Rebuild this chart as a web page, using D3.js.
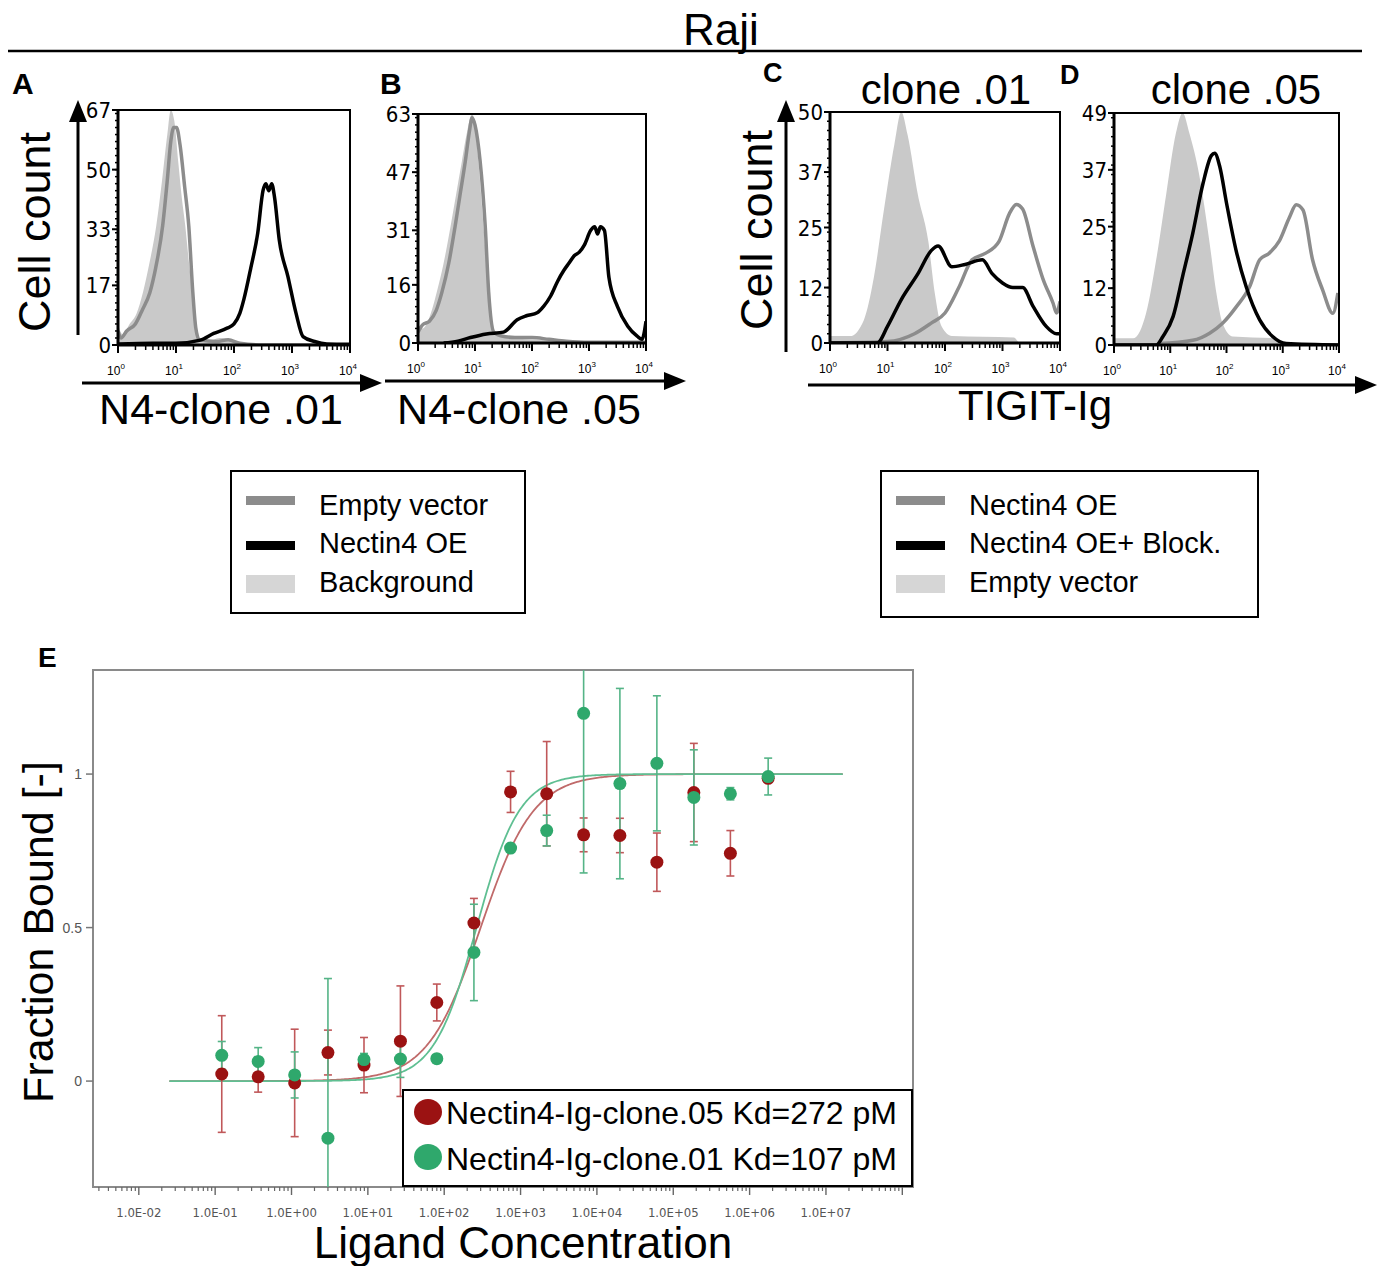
<!DOCTYPE html>
<html>
<head>
<meta charset="utf-8">
<script src="https://cdn.jsdelivr.net/npm/d3@7"></script>
<style>
  body { margin: 0; background: #fff; }
  svg { display: block; font-family: "Liberation Sans", Arial, sans-serif; }
</style>
</head>
<body>
<div id="fig"></div>
<script>
// ---- Flow cytometry histograms: [log10 fluorescence, cell count] ----
const decadeExps = ["0", "1", "2", "3", "4"];

const aYTicks = [0, 17, 33, 50, 67];
const aBackground = [[0,6],[0.08,3],[0.2,6],[0.32,9],[0.43,15],[0.55,24],[0.66,34],[0.76,47],[0.85,60],[0.91,67],[0.97,64],[1.04,52],[1.1,42],[1.16,34],[1.22,24],[1.28,15],[1.33,6],[1.4,2],[1.55,1],[1.75,2],[1.95,1.5],[2.15,0],[4,0]];
const aEmptyVector = [[0,4],[0.05,2],[0.15,4],[0.3,6],[0.42,10],[0.55,15],[0.65,22],[0.77,34],[0.85,47],[0.91,58],[0.96,62],[1.01,62],[1.07,57],[1.15,45],[1.22,34],[1.29,15],[1.34,5],[1.4,1.5],[1.7,1],[1.9,1.5],[2.1,0.5],[2.5,0],[4,0]];
const aNectin4OE = [[0,0.3],[0.6,0.5],[1.0,0.5],[1.42,1.4],[1.65,3.3],[1.88,4.8],[2.0,6],[2.1,9],[2.17,13],[2.29,22],[2.41,32],[2.5,44],[2.55,46],[2.6,44],[2.65,46],[2.7,42],[2.78,30],[2.93,19.5],[3.07,9],[3.19,2.4],[3.39,1],[3.6,0.3],[4,0.2]];

const bYTicks = [0, 16, 31, 47, 63];
const bBackground = [[0,5],[0.08,4],[0.2,7],[0.33,14],[0.45,22],[0.57,32],[0.67,41],[0.77,50],[0.86,58],[0.95,63],[1.0,60],[1.06,50],[1.15,32],[1.24,14],[1.33,3],[1.45,2],[1.62,1.8],[1.9,1],[2.3,0.8],[2.67,0.5],[2.8,0],[4,0]];
const bEmptyVector = [[0,3],[0.08,5],[0.2,6],[0.32,9],[0.42,14],[0.54,22],[0.65,32],[0.74,41],[0.83,50],[0.9,58],[0.95,62],[1.0,60],[1.09,50],[1.18,32],[1.24,14],[1.33,3],[1.45,2],[1.7,1.5],[2.0,1.5],[2.3,1],[2.6,0.5],[3,0.2],[4,0.2]];
const bNectin4OE = [[0.45,0],[0.7,0.5],[0.92,1.5],[1.2,2.5],[1.5,3],[1.74,6.4],[1.9,7.5],[2.09,8.3],[2.2,10],[2.33,13],[2.45,17],[2.56,20],[2.65,22],[2.74,24],[2.83,25],[2.92,27],[3.03,31],[3.1,32],[3.15,30],[3.2,32],[3.27,31],[3.35,18],[3.5,10],[3.68,4.6],[3.85,1.8],[3.93,1],[4.0,6]];

const cYTicks = [0, 12, 25, 37, 50];
const cEmptyVector = [[0,1.5],[0.35,1.5],[0.59,5],[0.76,14],[0.94,29],[1.12,43],[1.24,50],[1.35,45],[1.53,32],[1.71,22],[1.82,11],[1.94,3.6],[2.12,1.5],[3.2,1.2],[3.3,0],[4,0]];
const cNectin4OE = [[0,0],[1.0,0.3],[1.47,2],[1.76,4.3],[2.0,6.5],[2.24,12],[2.47,18],[2.7,19.4],[2.94,22],[3.12,28],[3.24,30],[3.35,29],[3.53,21],[3.7,14],[3.88,8.6],[3.94,6.5],[4.0,9]];
const cBlock = [[0,0],[0.82,0],[1.0,3.6],[1.24,9.4],[1.53,15],[1.76,20],[1.88,21],[2.12,16.5],[2.35,17],[2.65,18],[2.82,15],[3.0,13],[3.18,12],[3.35,12],[3.53,8],[3.76,3.6],[3.94,2],[4.0,2]];

const dYTicks = [0, 12, 25, 37, 49];
const dEmptyVector = [[0,1.4],[0.34,1.4],[0.57,6.7],[0.75,18],[0.93,32],[1.1,44.7],[1.22,49],[1.34,44.7],[1.52,35.6],[1.7,21.5],[1.82,11],[1.93,4.6],[2.11,1.8],[2.88,1.4],[2.95,0],[4,0]];
const dNectin4OE = [[0.8,0.3],[1.4,1],[1.7,2.5],[1.93,4.6],[2.17,8],[2.41,12.3],[2.59,18],[2.76,19.4],[2.94,22],[3.12,27],[3.24,29.6],[3.36,28.5],[3.53,18],[3.71,11.6],[3.89,6.7],[3.98,11]];
const dBlock = [[0,0],[0.75,0],[0.87,1.8],[1.05,6],[1.22,14.5],[1.4,23.6],[1.58,34],[1.73,40],[1.79,40.5],[1.88,37.7],[2.0,30],[2.17,20],[2.35,12.3],[2.59,5.3],[2.82,1.8],[3.06,0.3],[4,0]];

// ---- Panel E: MST binding ----
const concentration = [0.122, 0.366, 1.10, 3.0, 8.9, 26.7, 80, 245, 740, 2200, 6700, 20000, 61000, 186000, 560000, 1750000];
const clone05 = [0.023, 0.014, -0.006, 0.093, 0.052, 0.13, 0.256, 0.515, 0.942, 0.936, 0.802, 0.80, 0.713, 0.94, 0.742, 0.986];
const clone05Err = [0.19, 0.05, 0.175, 0.073, 0.09, 0.18, 0.06, 0.08, 0.067, 0.17, 0.055, 0.056, 0.095, 0.16, 0.074, 0];
const clone01 = [0.084, 0.064, 0.02, -0.186, 0.07, 0.072, 0.073, 0.419, 0.759, 0.816, 1.198, 0.969, 1.035, 0.924, 0.936, 0.992];
const clone01Err = [0.045, 0.045, 0.075, 0.52, 0.02, 0.06, 0, 0.157, 0, 0.05, 0.52, 0.31, 0.22, 0.155, 0.02, 0.06];
const eXTickLabels = ["1.0E-02","1.0E-01","1.0E+00","1.0E+01","1.0E+02","1.0E+03","1.0E+04","1.0E+05","1.0E+06","1.0E+07"];
const eYTicks = [0, 0.5, 1];
const legendE = ["Nectin4-Ig-clone.05 Kd=272 pM", "Nectin4-Ig-clone.01 Kd=107 pM"];
// fitted dose-response curves (ec50 in axis units, hill slope)
const fit05 = { ec50: 300, hill: 1.25 };
const fit01 = { ec50: 265, hill: 1.55 };

const W = 1384, H = 1266;
const narrow = "'Liberation Sans Narrow', 'DejaVu Sans Condensed', sans-serif";
const FILL = "#c9c9c9", GRAY = "#8c8c8c";

const svg = d3.select("#fig").append("svg").attr("width", W).attr("height", H);

// Title
svg.append("text").attr("x", 721).attr("y", 45).attr("text-anchor", "middle")
  .attr("font-size", 44).text("Raji");
svg.append("line").attr("x1", 8).attr("x2", 1362).attr("y1", 51).attr("y2", 51)
  .attr("stroke", "#000").attr("stroke-width", 2.5);

function histPanel(id, box, yTicks, fillData, grayData, blackData) {
  const x = d3.scaleLog().domain([1, 1e4]).range([box.left, box.right]);
  const y = d3.scaleLinear().domain([0, yTicks[yTicks.length - 1]]).range([box.bottom, box.top]);
  const g = svg.append("g");

  g.append("clipPath").attr("id", "clip" + id).append("rect")
    .attr("x", box.left).attr("y", box.top - 2)
    .attr("width", box.right - box.left).attr("height", box.bottom - box.top + 2);
  const plot = g.append("g").attr("clip-path", `url(#clip${id})`);

  const area = d3.area().x(d => x(10 ** d[0])).y0(y(0)).y1(d => y(d[1])).curve(d3.curveMonotoneX);
  const line = d3.line().x(d => x(10 ** d[0])).y(d => y(d[1])).curve(d3.curveMonotoneX);

  plot.append("path").datum(fillData).attr("d", area).attr("fill", FILL);
  plot.append("path").datum(grayData).attr("d", line).attr("fill", "none")
    .attr("stroke", GRAY).attr("stroke-width", 3.5);
  plot.append("path").datum(blackData).attr("d", line).attr("fill", "none")
    .attr("stroke", "#000").attr("stroke-width", 3.5);

  // frame
  g.append("rect").attr("x", box.left).attr("y", box.top)
    .attr("width", box.right - box.left).attr("height", box.bottom - box.top)
    .attr("fill", "none").attr("stroke", "#000").attr("stroke-width", 2);
  g.append("line").attr("x1", box.left).attr("x2", box.left).attr("y1", box.top).attr("y2", box.bottom)
    .attr("stroke", "#000").attr("stroke-width", 3);
  g.append("line").attr("x1", box.left).attr("x2", box.right).attr("y1", box.bottom).attr("y2", box.bottom)
    .attr("stroke", "#000").attr("stroke-width", 3);

  // y ticks
  g.selectAll(".ymin").data(y.ticks(30)).join("line")
    .attr("x1", box.left - 3).attr("x2", box.left).attr("y1", d => y(d)).attr("y2", d => y(d))
    .attr("stroke", "#000").attr("stroke-width", 1.5);
  g.selectAll(".ymaj").data(yTicks).join("line")
    .attr("x1", box.left - 6).attr("x2", box.left).attr("y1", d => y(d)).attr("y2", d => y(d))
    .attr("stroke", "#000").attr("stroke-width", 2);
  g.selectAll(".ylab").data(yTicks).join("text")
    .attr("x", box.left - 7).attr("y", d => y(d) + 8)
    .attr("text-anchor", "end").attr("font-family", narrow).attr("font-size", 22)
    .text(d => d);

  // x ticks (log)
  const minor = [];
  for (let e = 0; e < 4; e++) for (let k = 2; k <= 9; k++) minor.push(k * 10 ** e);
  g.selectAll(".xmin").data(minor).join("line")
    .attr("x1", d => x(d)).attr("x2", d => x(d)).attr("y1", box.bottom).attr("y2", box.bottom + 5)
    .attr("stroke", "#000").attr("stroke-width", 1.5);
  g.selectAll(".xmaj").data(decadeExps).join("line")
    .attr("x1", d => x(10 ** +d)).attr("x2", d => x(10 ** +d))
    .attr("y1", box.bottom).attr("y2", box.bottom + 8)
    .attr("stroke", "#000").attr("stroke-width", 2);
  const lab = g.selectAll(".xlab").data(decadeExps).join("text")
    .attr("x", d => x(10 ** +d) - 2).attr("y", box.bottom + 30)
    .attr("text-anchor", "middle").attr("font-size", 12);
  lab.append("tspan").text("10");
  lab.append("tspan").attr("dy", -6).attr("font-size", 8).text(d => d);
}

histPanel("A", { left: 118, right: 350, top: 110, bottom: 345 }, aYTicks, aBackground, aEmptyVector, aNectin4OE);
histPanel("B", { left: 418, right: 646, top: 114, bottom: 343 }, bYTicks, bBackground, bEmptyVector, bNectin4OE);
histPanel("C", { left: 830, right: 1060, top: 112, bottom: 343 }, cYTicks, cEmptyVector, cNectin4OE, cBlock);
histPanel("D", { left: 1114, right: 1339, top: 113, bottom: 345 }, dYTicks, dEmptyVector, dNectin4OE, dBlock);

// panel letters
[["A", 12, 94, 30], ["B", 380, 94, 30], ["C", 763, 82, 27], ["D", 1060, 84, 27], ["E", 38, 667, 28]]
  .forEach(([t, px, py, fs]) => svg.append("text").attr("x", px).attr("y", py)
    .attr("font-weight", "bold").attr("font-size", fs).text(t));

// arrows
function arrow(x1, y1, x2, y2) {
  const ang = Math.atan2(y2 - y1, x2 - x1), L = 22, Wd = 9;
  const bx = x2 - L * Math.cos(ang), by = y2 - L * Math.sin(ang);
  svg.append("line").attr("x1", x1).attr("y1", y1).attr("x2", bx).attr("y2", by)
    .attr("stroke", "#000").attr("stroke-width", 3);
  const px = -Math.sin(ang) * Wd, py = Math.cos(ang) * Wd;
  svg.append("path").attr("d", `M${x2},${y2}L${bx + px},${by + py}L${bx - px},${by - py}Z`).attr("fill", "#000");
}
arrow(78, 335, 78, 100);
arrow(82, 383, 382, 383);
arrow(385, 381, 686, 381);
arrow(786, 352, 786, 100);
arrow(808, 385, 1377, 385);

// axis titles
svg.append("text").attr("transform", "translate(50,232) rotate(-90)").attr("text-anchor", "middle")
  .attr("font-size", 45).text("Cell count");
svg.append("text").attr("transform", "translate(772,230) rotate(-90)").attr("text-anchor", "middle")
  .attr("font-size", 45).text("Cell count");
svg.append("text").attr("x", 221).attr("y", 424).attr("text-anchor", "middle").attr("font-size", 43).text("N4-clone .01");
svg.append("text").attr("x", 519).attr("y", 424).attr("text-anchor", "middle").attr("font-size", 43).text("N4-clone .05");
svg.append("text").attr("x", 1035).attr("y", 420).attr("text-anchor", "middle").attr("font-size", 42).text("TIGIT-Ig");
svg.append("text").attr("x", 946).attr("y", 104).attr("text-anchor", "middle").attr("font-size", 42).text("clone .01");
svg.append("text").attr("x", 1236).attr("y", 104).attr("text-anchor", "middle").attr("font-size", 42).text("clone .05");

// legends for histograms
function histLegend(box, labels) {
  const g = svg.append("g");
  g.append("rect").attr("x", box.x).attr("y", box.y).attr("width", box.w).attr("height", box.h)
    .attr("fill", "#fff").attr("stroke", "#000").attr("stroke-width", 2);
  const sw = [
    { c: GRAY, y: 496, h: 9 },
    { c: "#000", y: 541, h: 9 },
    { c: "#d6d6d6", y: 575, h: 18 }
  ];
  sw.forEach((s, i) => {
    g.append("rect").attr("x", box.x + 15).attr("y", s.y).attr("width", 49).attr("height", s.h).attr("fill", s.c);
    g.append("text").attr("x", box.x + 88).attr("y", [515, 553, 592][i]).attr("font-size", 29).text(labels[i]);
  });
}
histLegend({ x: 231, y: 471, w: 294, h: 142 }, ["Empty vector", "Nectin4 OE", "Background"]);
histLegend({ x: 881, y: 471, w: 377, h: 146 }, ["Nectin4 OE", "Nectin4 OE+ Block.", "Empty vector"]);

// ---- Panel E ----
const eBox = { left: 93, right: 913, top: 670, bottom: 1187 };
const ex = d3.scaleLog().domain([10 ** -2.6, 10 ** 8.14]).range([eBox.left, eBox.right]);
const ey = d3.scaleLinear().domain([-0.345, 1.339]).range([eBox.bottom, eBox.top]);
const eg = svg.append("g");

eg.append("clipPath").attr("id", "clipE").append("rect")
  .attr("x", eBox.left).attr("y", eBox.top).attr("width", eBox.right - eBox.left).attr("height", eBox.bottom - eBox.top);

eg.append("rect").attr("x", eBox.left).attr("y", eBox.top)
  .attr("width", eBox.right - eBox.left).attr("height", eBox.bottom - eBox.top)
  .attr("fill", "none").attr("stroke", "#8a8a8a").attr("stroke-width", 2);

// y ticks
eg.selectAll(".eyt").data(eYTicks).join("line")
  .attr("x1", eBox.left - 7).attr("x2", eBox.left).attr("y1", d => ey(d)).attr("y2", d => ey(d))
  .attr("stroke", "#777").attr("stroke-width", 1.5);
eg.selectAll(".eyl").data(eYTicks).join("text")
  .attr("x", eBox.left - 11).attr("y", d => ey(d) + 5).attr("text-anchor", "end")
  .attr("font-size", 14).attr("fill", "#555").text(d => d);

// x ticks
const eMinor = [];
for (let e = -3; e <= 8; e++) for (let k = 2; k <= 9; k++) {
  const v = k * 10 ** e;
  if (v >= ex.domain()[0] && v <= ex.domain()[1]) eMinor.push(v);
}
eg.selectAll(".exm").data(eMinor).join("line")
  .attr("x1", d => ex(d)).attr("x2", d => ex(d)).attr("y1", eBox.bottom).attr("y2", eBox.bottom + 4)
  .attr("stroke", "#666").attr("stroke-width", 1.2);
eg.selectAll(".exM").data(d3.range(-2, 9)).join("line")
  .attr("x1", d => ex(10 ** d)).attr("x2", d => ex(10 ** d)).attr("y1", eBox.bottom).attr("y2", eBox.bottom + 8)
  .attr("stroke", "#666").attr("stroke-width", 1.4);
eg.selectAll(".exl").data(eXTickLabels).join("text")
  .attr("x", (d, i) => ex(10 ** (i - 2))).attr("y", eBox.bottom + 30).attr("text-anchor", "middle")
  .attr("font-family", narrow).attr("font-size", 13).attr("fill", "#555").text(d => d);

// fitted curves
const curveConc = d3.range(-1.6, 7.23, 0.02).map(u => 10 ** u);
const hill = p => c => 1 / (1 + (p.ec50 / c) ** p.hill);
const fitLine = f => d3.line().x(c => ex(c)).y(c => ey(f(c)));
const plotE = eg.append("g").attr("clip-path", "url(#clipE)");
plotE.append("path").datum(curveConc).attr("d", fitLine(hill(fit05)))
  .attr("fill", "none").attr("stroke", "#c06a6a").attr("stroke-width", 1.8);
plotE.append("path").datum(curveConc).attr("d", fitLine(hill(fit01)))
  .attr("fill", "none").attr("stroke", "#5fbf92").attr("stroke-width", 1.8);

function errBars(vals, errs, color) {
  const rows = concentration.map((c, i) => ({ c, v: vals[i], e: errs[i] })).filter(d => d.e > 0);
  const g = plotE.append("g").attr("stroke", color).attr("stroke-width", 1.6);
  g.selectAll(".v").data(rows).join("line")
    .attr("x1", d => ex(d.c)).attr("x2", d => ex(d.c)).attr("y1", d => ey(d.v - d.e)).attr("y2", d => ey(d.v + d.e));
  [-1, 1].forEach(s => g.selectAll(".cap" + s).data(rows).join("line")
    .attr("x1", d => ex(d.c) - 4).attr("x2", d => ex(d.c) + 4)
    .attr("y1", d => ey(d.v + s * d.e)).attr("y2", d => ey(d.v + s * d.e)));
}
errBars(clone05, clone05Err, "#c0585a");
errBars(clone01, clone01Err, "#55b487");

plotE.selectAll(".r").data(clone05).join("circle")
  .attr("cx", (d, i) => ex(concentration[i])).attr("cy", d => ey(d)).attr("r", 6.5).attr("fill", "#9b1212");
plotE.selectAll(".gr").data(clone01).join("circle")
  .attr("cx", (d, i) => ex(concentration[i])).attr("cy", d => ey(d)).attr("r", 6.5).attr("fill", "#2fa86c");

// legend E
const lg = svg.append("g");
lg.append("rect").attr("x", 403).attr("y", 1090).attr("width", 509).attr("height", 96)
  .attr("fill", "#fff").attr("stroke", "#000").attr("stroke-width", 2);
[["#9b1212", 1112, 1124], ["#2fa86c", 1157, 1170]].forEach(([c, cy, by], i) => {
  lg.append("ellipse").attr("cx", 428).attr("cy", cy).attr("rx", 14).attr("ry", 13).attr("fill", c);
  lg.append("text").attr("x", 446).attr("y", by).attr("font-size", 32).text(legendE[i]);
});

svg.append("text").attr("transform", "translate(53,932) rotate(-90)").attr("text-anchor", "middle")
  .attr("font-size", 43).text("Fraction Bound [-]");
svg.append("text").attr("x", 523).attr("y", 1258).attr("text-anchor", "middle")
  .attr("font-size", 44).text("Ligand Concentration");
</script>
</body>
</html>
